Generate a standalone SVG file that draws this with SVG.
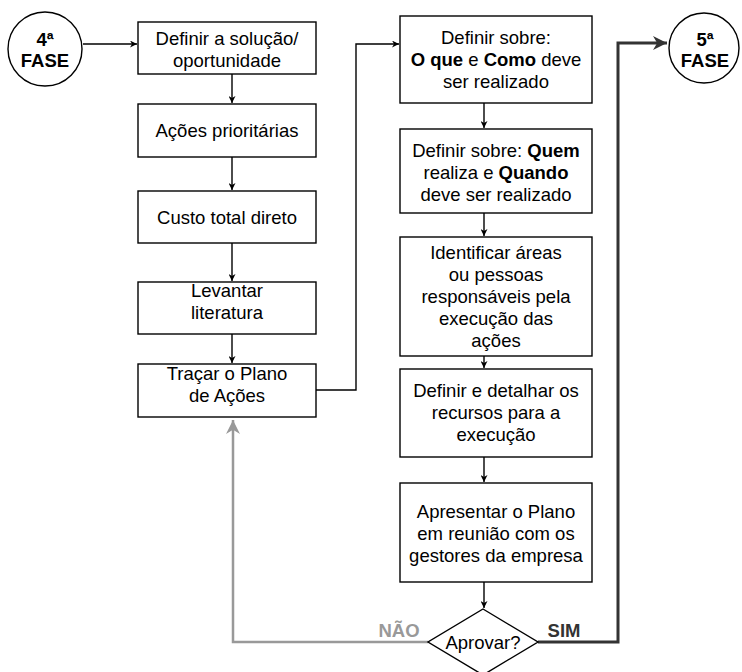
<svg xmlns="http://www.w3.org/2000/svg" width="742" height="672" viewBox="0 0 742 672">
<style>
.box{fill:#fff;stroke:#000;stroke-width:1.4}
.t{font-family:"Liberation Sans",Arial,sans-serif;font-size:18.5px;fill:#000;text-anchor:middle}
.b{font-weight:bold}
.c{fill:none;stroke:#000;stroke-width:1.4}
</style>
<defs>
<marker id="ah" viewBox="0 0 10 10" refX="10" refY="5" markerWidth="7" markerHeight="7" markerUnits="userSpaceOnUse" orient="auto">
<path d="M0,0 L10,5 L0,10 L3,5 z" fill="#000"/>
</marker>
<marker id="ahd" viewBox="0 0 10 10" refX="10" refY="5" markerWidth="14" markerHeight="14" markerUnits="userSpaceOnUse" orient="auto">
<path d="M0,0 L10,5 L0,10 L3,5 z" fill="#333"/>
</marker>
<marker id="ahg" viewBox="0 0 10 10" refX="10" refY="5" markerWidth="14" markerHeight="14" markerUnits="userSpaceOnUse" orient="auto">
<path d="M0,0 L10,5 L0,10 L3,5 z" fill="#999"/>
</marker>
</defs>
<rect width="742" height="672" fill="#fff"/>
<g id="connectors">
<path class="c" d="M83,44 H137" marker-end="url(#ah)"/>
<path class="c" d="M232,74 V103" marker-end="url(#ah)"/>
<path class="c" d="M232,157 V190" marker-end="url(#ah)"/>
<path class="c" d="M232,243 V281" marker-end="url(#ah)"/>
<path class="c" d="M232,334 V363" marker-end="url(#ah)"/>
<path class="c" d="M310,390 H356 V44 H399" marker-end="url(#ah)"/>
<path class="c" d="M484,103 V128" marker-end="url(#ah)"/>
<path class="c" d="M484,213 V236" marker-end="url(#ah)"/>
<path class="c" d="M484,356 V368" marker-end="url(#ah)"/>
<path class="c" d="M484,457 V482" marker-end="url(#ah)"/>
<path class="c" d="M484,582 V608" marker-end="url(#ah)"/>
<path d="M538,642 H618 V43 H667" fill="none" stroke="#333" stroke-width="3" marker-end="url(#ahd)"/>
<path d="M428,642 H233 V420" fill="none" stroke="#999" stroke-width="2.5" marker-end="url(#ahg)"/>
<text class="t b" x="399" y="637" style="fill:#999">NÃO</text>
<text class="t b" x="564" y="637" style="fill:#333">SIM</text>
</g>
<g id="fase4">
<circle cx="45" cy="49" r="37" class="box"/>
<text class="t b" x="45" y="46">4ª</text>
<text class="t b" x="45" y="67">FASE</text>
</g>
<g id="fase5">
<circle cx="704" cy="48" r="35" class="box"/>
<text class="t b" x="705" y="46">5ª</text>
<text class="t b" x="705" y="67">FASE</text>
</g>
<g id="n1">
<rect class="box" x="138" y="22" width="178" height="52"/>
<text class="t" x="227" y="45">Definir a solução/</text>
<text class="t" x="227" y="67">oportunidade</text>
</g>
<g id="n2">
<rect class="box" x="138" y="104" width="178" height="53"/>
<text class="t" x="227" y="137">Ações prioritárias</text>
</g>
<g id="n3">
<rect class="box" x="138" y="191" width="178" height="52"/>
<text class="t" x="227" y="224">Custo total direto</text>
</g>
<g id="n4">
<rect class="box" x="138" y="282" width="178" height="52"/>
<text class="t" x="227" y="297">Levantar</text>
<text class="t" x="227" y="319">literatura</text>
</g>
<g id="n5">
<rect class="box" x="138" y="364" width="178" height="53"/>
<text class="t" x="227" y="380">Traçar o Plano</text>
<text class="t" x="227" y="402">de Ações</text>
</g>
<g id="nA">
<rect class="box" x="400" y="16" width="192" height="87"/>
<text class="t" x="496" y="44">Definir sobre:</text>
<text class="t" x="496" y="66"><tspan class="b">O que</tspan> e <tspan class="b">Como</tspan> deve</text>
<text class="t" x="496" y="88">ser realizado</text>
</g>
<g id="nB">
<rect class="box" x="400" y="129" width="192" height="84"/>
<text class="t" x="496" y="157">Definir sobre: <tspan class="b">Quem</tspan></text>
<text class="t" x="496" y="179">realiza e <tspan class="b">Quando</tspan></text>
<text class="t" x="496" y="201">deve ser realizado</text>
</g>
<g id="nC">
<rect class="box" x="400" y="237" width="192" height="119"/>
<text class="t" x="496" y="259">Identificar áreas</text>
<text class="t" x="496" y="281">ou pessoas</text>
<text class="t" x="496" y="303">responsáveis pela</text>
<text class="t" x="496" y="325">execução das</text>
<text class="t" x="496" y="347">ações</text>
</g>
<g id="nD">
<rect class="box" x="400" y="369" width="192" height="88"/>
<text class="t" x="496" y="397">Definir e detalhar os</text>
<text class="t" x="496" y="419">recursos para a</text>
<text class="t" x="496" y="441">execução</text>
</g>
<g id="nE">
<rect class="box" x="400" y="483" width="192" height="99"/>
<text class="t" x="496" y="518">Apresentar o Plano</text>
<text class="t" x="496" y="540">em reunião com os</text>
<text class="t" x="496" y="562">gestores da empresa</text>
</g>
<g id="decision">
<path class="box" d="M483,609 L538,642 L483,675 L428,642 Z"/>
<text class="t" x="483" y="649">Aprovar?</text>
</g>
</svg>
